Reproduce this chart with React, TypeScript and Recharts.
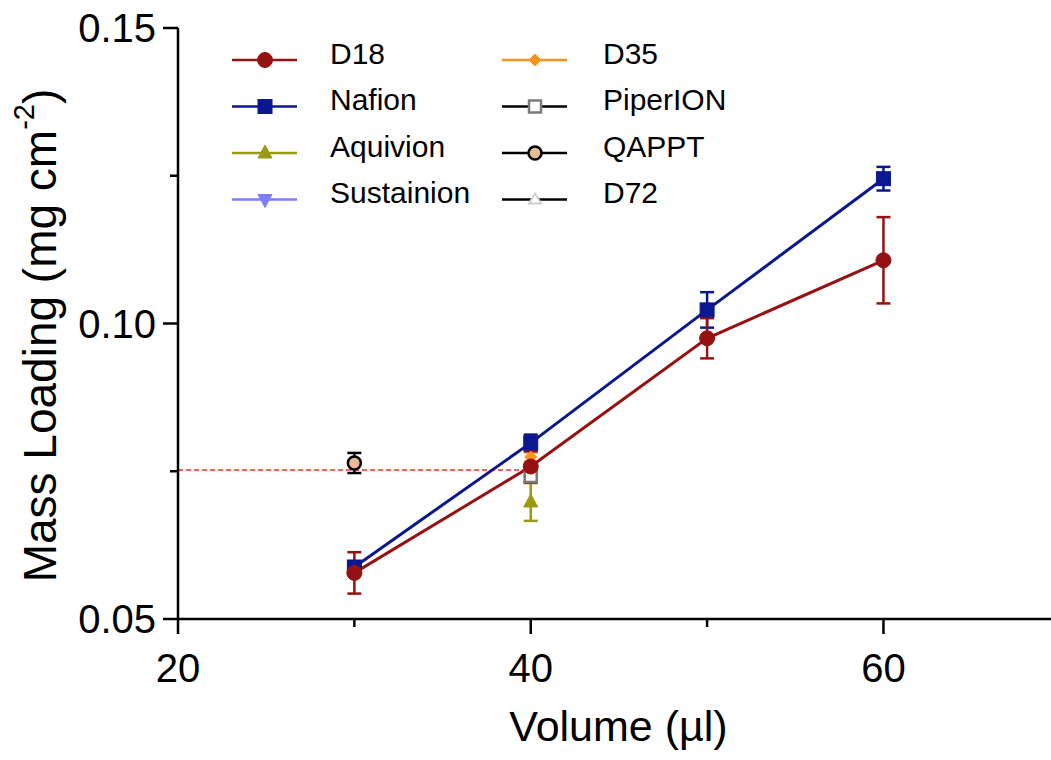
import React from 'react';
import { ComposedChart, Line, XAxis, YAxis, ErrorBar, ReferenceLine, Legend, Label } from 'recharts';

// volume (µl) / mass loading (mg cm-2) / error (sd)
const volumes = [30, 40, 50, 60];
const d18Loading = [0.0578, 0.0758, 0.0975, 0.1107];
const d18Error = [0.0035, 0.0027, 0.0034, 0.0073];
const nafionLoading = [0.0588, 0.0798, 0.1023, 0.1245];
const nafionError = [0.0008, 0.0014, 0.003, 0.002];

const aquivionVolume = [40];
const aquivionLoading = [0.0698];
const aquivionError = [0.0032];
const sustainionVolume = [40];
const sustainionLoading = [0.0752];
const sustainionError = [0.001];
const d35Volume = [40];
const d35Loading = [0.0774];
const d35Error = [0.0008];
const piperionVolume = [40];
const piperionLoading = [0.0742];
const piperionError = [0.001];
const qapptVolume = [30];
const qapptLoading = [0.0764];
const qapptError = [0.0017];
const d72Volume = [40];
const d72Loading = [0.075];
const d72Error = [0.001];

const targetLoading = 0.0752;
const targetSpan = [20, 40];

const xTicks = [20, 30, 40, 50, 60];
const xMajor = [20, 40, 60];
const yTicks = [0.05, 0.075, 0.1, 0.125, 0.15];
const yMajor = [0.05, 0.1, 0.15];

const FONT = '"Liberation Sans", Arial, Helvetica, sans-serif';

type Shape = 'circle' | 'square' | 'up' | 'down' | 'diamond' | 'openSquare' | 'ring' | 'openUp';

const toPoints = (xs: number[], ys: number[], es: number[]) =>
  xs.map((x, i) => ({ x, y: ys[i], err: es[i] }));

interface Series {
  name: string;
  color: string;
  legendLine: string;
  shape: Shape;
  fill: string;
  stroke: string;
  data: { x: number; y: number; err: number }[];
}

// drawn bottom to top
const series: Series[] = [
  { name: 'D72', color: '#cfcfcf', legendLine: '#000', shape: 'openUp', fill: '#fff', stroke: '#cfcfcf', data: toPoints(d72Volume, d72Loading, d72Error) },
  { name: 'Sustainion', color: '#7d7dff', legendLine: '#7d7dff', shape: 'down', fill: '#7d7dff', stroke: '#7d7dff', data: toPoints(sustainionVolume, sustainionLoading, sustainionError) },
  { name: 'Aquivion', color: '#9a9a14', legendLine: '#9a9a14', shape: 'up', fill: '#9a9a14', stroke: '#9a9a14', data: toPoints(aquivionVolume, aquivionLoading, aquivionError) },
  { name: 'PiperION', color: '#7a7a7a', legendLine: '#000', shape: 'openSquare', fill: '#fff', stroke: '#7a7a7a', data: toPoints(piperionVolume, piperionLoading, piperionError) },
  { name: 'D35', color: '#f7931e', legendLine: '#f7931e', shape: 'diamond', fill: '#f7931e', stroke: '#f7931e', data: toPoints(d35Volume, d35Loading, d35Error) },
  { name: 'QAPPT', color: '#000', legendLine: '#000', shape: 'ring', fill: '#e6bd92', stroke: '#000', data: toPoints(qapptVolume, qapptLoading, qapptError) },
  { name: 'Nafion', color: '#0b178f', legendLine: '#0b178f', shape: 'square', fill: '#0b178f', stroke: '#0b178f', data: toPoints(volumes, nafionLoading, nafionError) },
  { name: 'D18', color: '#961212', legendLine: '#961212', shape: 'circle', fill: '#961212', stroke: '#961212', data: toPoints(volumes, d18Loading, d18Error) },
];

const legendOrder = [
  ['D18', 'Nafion', 'Aquivion', 'Sustainion'],
  ['D35', 'PiperION', 'QAPPT', 'D72'],
];

function Marker({ shape, cx, cy, fill, stroke }: { shape: Shape; cx: number; cy: number; fill: string; stroke: string }) {
  switch (shape) {
    case 'circle':
      return <circle cx={cx} cy={cy} r={7.5} fill={fill} stroke={stroke} strokeWidth={1} />;
    case 'square':
      return <rect x={cx - 7} y={cy - 7} width={14} height={14} fill={fill} stroke={stroke} strokeWidth={1} />;
    case 'up':
      return <polygon points={`${cx},${cy - 8} ${cx + 7},${cy + 5} ${cx - 7},${cy + 5}`} fill={fill} stroke={stroke} strokeWidth={1} />;
    case 'down':
      return <polygon points={`${cx},${cy + 8} ${cx + 7},${cy - 5} ${cx - 7},${cy - 5}`} fill={fill} stroke={stroke} strokeWidth={1} />;
    case 'diamond':
      return <polygon points={`${cx},${cy - 6} ${cx + 6},${cy} ${cx},${cy + 6} ${cx - 6},${cy}`} fill={fill} stroke={stroke} strokeWidth={1} />;
    case 'openSquare':
      return <rect x={cx - 6} y={cy - 6} width={12} height={12} fill={fill} stroke={stroke} strokeWidth={2.5} />;
    case 'ring':
      return <circle cx={cx} cy={cy} r={6.5} fill={fill} stroke={stroke} strokeWidth={2.5} />;
    case 'openUp':
      return <polygon points={`${cx},${cy - 6} ${cx + 6},${cy + 4} ${cx - 6},${cy + 4}`} fill={fill} stroke={stroke} strokeWidth={2} />;
  }
  return null;
}

const renderDot = (s: Series) => (props: any) => (
  <Marker key={`${s.name}-${props.index}`} shape={s.shape} cx={props.cx} cy={props.cy} fill={s.fill} stroke={s.stroke} />
);

const XTick = (props: any) => {
  const { x, y, payload } = props;
  const major = xMajor.includes(payload.value);
  return (
    <g>
      <line x1={x} x2={x} y1={y} y2={y + (major ? 15 : 8)} stroke="#000" strokeWidth={2.5} />
      {major && (
        <text x={x} y={y + 49} textAnchor="middle" dominantBaseline="central" fontSize={40} fontFamily={FONT} fill="#000">
          {payload.value}
        </text>
      )}
    </g>
  );
};

const YTick = (props: any) => {
  const { x, y, payload } = props;
  const major = yMajor.some((v) => Math.abs(v - payload.value) < 1e-9);
  return (
    <g>
      <line x1={x} x2={x - (major ? 15 : 8)} y1={y} y2={y} stroke="#000" strokeWidth={2.5} />
      {major && (
        <text x={x - 22} y={y} textAnchor="end" dominantBaseline="central" fontSize={40} fontFamily={FONT} fill="#000">
          {payload.value.toFixed(2)}
        </text>
      )}
    </g>
  );
};

const YTitle = (props: any) => {
  const { viewBox } = props;
  const cx = viewBox.x + 40;
  const cy = viewBox.y + viewBox.height / 2 + 12;
  return (
    <text
      x={cx}
      y={cy}
      transform={`rotate(-90, ${cx}, ${cy})`}
      textAnchor="middle"
      dominantBaseline="central"
      fontSize={46}
      fontFamily={FONT}
      fill="#000"
    >
      Mass Loading (mg cm
      <tspan fontSize={29} dy={-16}>-2</tspan>
      <tspan dy={16}>)</tspan>
    </text>
  );
};

const XTitle = (props: any) => {
  const { viewBox } = props;
  return (
    <text
      x={viewBox.x + viewBox.width / 2 + 4}
      y={viewBox.y + 107}
      textAnchor="middle"
      dominantBaseline="central"
      fontSize={43}
      fontFamily={FONT}
      fill="#000"
    >
      Volume (µl)
    </text>
  );
};

const LegendBox = () => {
  const colX = [12, 282];
  const textX = [110, 383];
  return (
    <svg width={560} height={200} style={{ display: 'block' }}>
      {legendOrder.map((col, c) =>
        col.map((name, r) => {
          const s = series.find((d) => d.name === name)!;
          const ly = 22 + r * 46.5;
          return (
            <g key={name}>
              <line x1={colX[c]} x2={colX[c] + 65} y1={ly} y2={ly} stroke={s.legendLine} strokeWidth={2.5} />
              <Marker shape={s.shape} cx={colX[c] + 33} cy={ly} fill={s.fill} stroke={s.stroke} />
              <text x={textX[c]} y={ly - 7} dominantBaseline="central" fontSize={30} fontFamily={FONT} fill="#000">
                {name}
              </text>
            </g>
          );
        })
      )}
    </svg>
  );
};

export default function App() {
  return (
    <div style={{ position: 'absolute', left: 0, top: 0, background: '#fff' }}>
      <ComposedChart width={1051} height={760} margin={{ top: 28, right: 0, bottom: 0, left: 0 }}>
        <XAxis
          dataKey="x"
          type="number"
          domain={[20, 69.5]}
          allowDataOverflow
          ticks={xTicks}
          interval={0}
          height={141}
          tickSize={0}
          tickMargin={0}
          tickLine={false}
          tick={<XTick />}
          axisLine={{ stroke: '#000', strokeWidth: 2.5 }}
        >
          <Label content={<XTitle />} />
        </XAxis>
        <YAxis
          type="number"
          domain={[0.05, 0.15]}
          allowDataOverflow
          ticks={yTicks}
          interval={0}
          width={178}
          tickSize={0}
          tickMargin={0}
          tickLine={false}
          tick={<YTick />}
          axisLine={{ stroke: '#000', strokeWidth: 2.5 }}
        >
          <Label content={<YTitle />} />
        </YAxis>
        <ReferenceLine
          segment={[
            { x: targetSpan[0], y: targetLoading },
            { x: targetSpan[1], y: targetLoading },
          ]}
          stroke="#e8352b"
          strokeWidth={1.5}
          strokeDasharray="5 3"
          ifOverflow="visible"
        />
        {series.map((s) => (
          <Line
            key={s.name}
            name={s.name}
            data={s.data}
            dataKey="y"
            type="linear"
            stroke={s.color}
            strokeWidth={3}
            dot={renderDot(s)}
            activeDot={false}
            isAnimationActive={false}
          >
            <ErrorBar dataKey="err" width={7} stroke={s.color} strokeWidth={2.5} direction="y" />
          </Line>
        ))}
        <Legend
          layout="vertical"
          align="center"
          verticalAlign="middle"
          content={<LegendBox />}
          wrapperStyle={{ left: 220, top: 38, width: 560, height: 200 }}
        />
      </ComposedChart>
    </div>
  );
}
